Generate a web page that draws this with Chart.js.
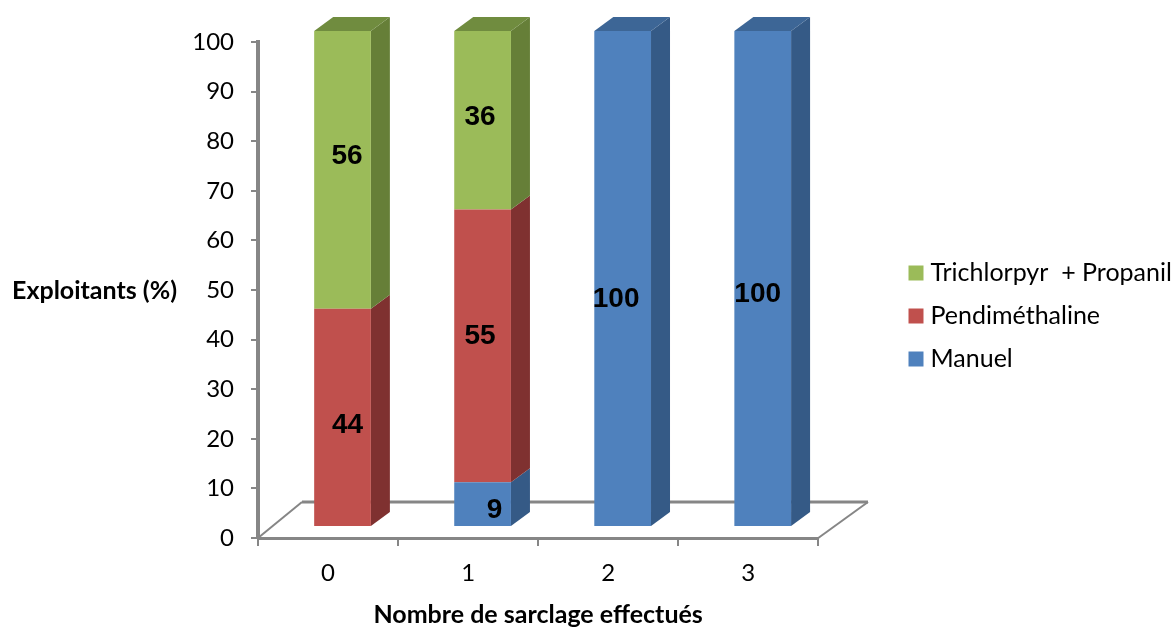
<!DOCTYPE html>
<html>
<head>
<meta charset="utf-8">
<script src="https://cdn.jsdelivr.net/npm/chart.js@4"></script>
<style>
  html, body { margin: 0; background: #fff; }
  canvas { display: block; }
</style>
</head>
<body>
<canvas id="myChart" width="1175" height="628"></canvas>
<script>
const categories = ["0", "1", "2", "3"];
const manuel = [null, 9, 100, 100];
const pendimethaline = [44, 55, null, null];
const trichlorpyr = [56, 36, null, null];
const yTicks = [0, 10, 20, 30, 40, 50, 60, 70, 80, 90, 100];

const axisGray = "#868686";
const shiftX = 14.5;
const shiftY = -11;
const depthX = 19;
const depthY = 14;

// hand placed value labels, [dx, dy] from the middle of each segment
const labelNudge = {
  "Manuel": [null, [12, 6], [-6.5, 21], [-5, 16]],
  "Pendiméthaline": [[5, 8], [-2.5, -10], null, null],
  "Trichlorpyr  + Propanil": [[4.5, -14], [-2.5, -3], null, null],
};

function face(ctx, color, points) {
  ctx.fillStyle = color;
  ctx.beginPath();
  points.forEach(([x, y], i) => (i ? ctx.lineTo(x, y) : ctx.moveTo(x, y)));
  ctx.closePath();
  ctx.fill();
}

const fakeDepth = {
  id: "fakeDepth",
  afterLayout(chart) {
    // legend sits further out than the layout would put it
    chart.legend.left = 896;
    chart.legend.right = 1175;
    chart.legend.top -= 19;
    chart.legend.bottom -= 19;
  },
  beforeDatasetsDraw(chart) {
    const { ctx, chartArea } = chart;
    // floor of the box
    ctx.save();
    ctx.strokeStyle = axisGray;
    ctx.lineWidth = 2;
    ctx.beginPath();
    ctx.moveTo(chartArea.left, chartArea.bottom);
    ctx.lineTo(302, 502);
    ctx.stroke();
    ctx.beginPath();
    ctx.moveTo(chartArea.right, chartArea.bottom);
    ctx.lineTo(868, 502);
    ctx.stroke();
    ctx.lineWidth = 3;
    ctx.beginPath();
    ctx.moveTo(302, 502);
    ctx.lineTo(868, 502);
    ctx.stroke();
    ctx.restore();

    ctx.save();
    ctx.translate(shiftX, shiftY);
    chart.data.datasets.forEach((ds, d) => {
      chart.getDatasetMeta(d).data.forEach((bar, i) => {
        if (ds.data[i] === null) return;
        const right = bar.x + bar.width / 2;
        const left = bar.x - bar.width / 2;
        face(ctx, ds.sideColor, [
          [right, bar.base],
          [right + depthX, bar.base - depthY],
          [right + depthX, bar.y - depthY],
          [right, bar.y],
        ]);
        // only the last segment of a stack shows its lid
        const isTop = chart.data.datasets.slice(d + 1).every((o) => o.data[i] === null);
        if (isTop) {
          face(ctx, ds.topColor, [
            [left, bar.y],
            [left + depthX, bar.y - depthY],
            [right + depthX, bar.y - depthY],
            [right, bar.y],
          ]);
        }
      });
    });
    // front faces are drawn by the library right after this, keep the shift on
  },
  afterDatasetsDraw(chart) {
    const { ctx, scales } = chart;
    ctx.restore();

    ctx.save();
    ctx.fillStyle = "#000";
    ctx.textAlign = "center";
    ctx.textBaseline = "middle";
    ctx.font = "bold 28px 'Liberation Sans'";
    chart.data.datasets.forEach((ds, d) => {
      chart.getDatasetMeta(d).data.forEach((bar, i) => {
        if (ds.data[i] === null) return;
        const [dx, dy] = labelNudge[ds.label][i];
        ctx.fillText(ds.data[i], bar.x + shiftX + dx, (bar.y + bar.base) / 2 + shiftY + dy);
      });
    });

    // the y title stays horizontal, the scale title option would rotate it
    ctx.font = "bold 25px Lato";
    ctx.textAlign = "left";
    ctx.fillText("Exploitants (%)", 12, scales.y.getPixelForValue(50) + 1);
    ctx.restore();
  },
};

new Chart(document.getElementById("myChart"), {
  type: "bar",
  data: {
    labels: categories,
    datasets: [
      { label: "Manuel", data: manuel, backgroundColor: "#4f81bd", sideColor: "#355a86", topColor: "#3d6696", clip: false },
      { label: "Pendiméthaline", data: pendimethaline, backgroundColor: "#c0504d", sideColor: "#7f3130", topColor: "#8c3836", clip: false },
      { label: "Trichlorpyr  + Propanil", data: trichlorpyr, backgroundColor: "#9bbb59", sideColor: "#667f38", topColor: "#708c3f", clip: false },
    ],
  },
  options: {
    responsive: false,
    animation: false,
    layout: { padding: { top: 42, right: 84 } },
    categoryPercentage: 1,
    barPercentage: 0.405,
    scales: {
      x: {
        stacked: true,
        afterFit(scale) {
          scale.height = 90;
        },
        border: { color: axisGray, width: 3 },
        grid: { drawOnChartArea: false, color: axisGray, lineWidth: 2, tickLength: 8 },
        ticks: { color: "#000", padding: 13, font: { family: "Lato", size: 24 } },
        title: {
          display: true,
          text: "Nombre de sarclage effectués",
          color: "#000",
          font: { family: "Lato", size: 25, weight: "bold" },
          padding: { top: 0, bottom: -2 },
        },
      },
      y: {
        stacked: true,
        min: 0,
        max: 100,
        afterFit(scale) {
          scale.width = 258;
        },
        afterBuildTicks(scale) {
          scale.ticks = yTicks.map((value) => ({ value }));
        },
        border: { color: axisGray, width: 4 },
        grid: { drawOnChartArea: false, color: axisGray, lineWidth: 2, tickLength: 7 },
        ticks: { color: "#000", padding: 17, font: { family: "Lato", size: 24 } },
      },
    },
    plugins: {
      tooltip: { enabled: false },
      legend: {
        position: "right",
        reverse: true,
        labels: {
          color: "#000",
          boxWidth: 4,
          boxHeight: 4,
          padding: 18,
          font: { family: "Lato", size: 25 },
          generateLabels(chart) {
            // thick stroke in the fill colour keeps the text close to the swatch
            return Chart.defaults.plugins.legend.labels.generateLabels(chart).map((item) => ({
              ...item,
              lineWidth: 11,
              strokeStyle: item.fillStyle,
            }));
          },
        },
      },
    },
  },
  plugins: [fakeDepth],
});
</script>
</body>
</html>
